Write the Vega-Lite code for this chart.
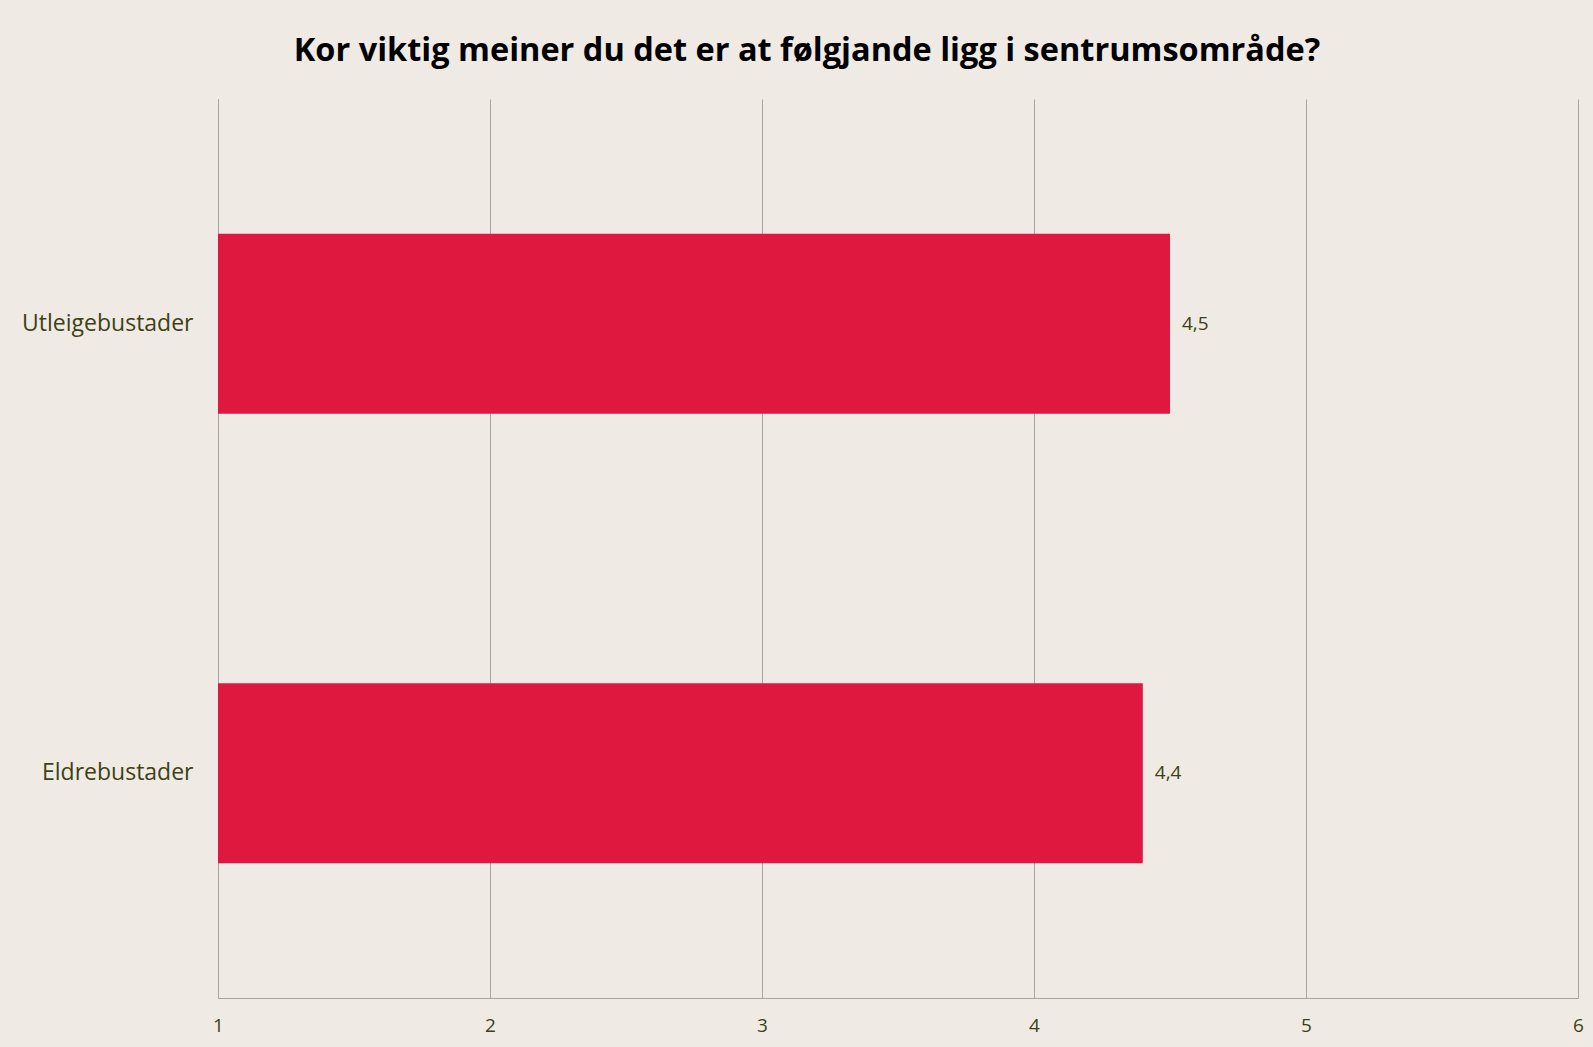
{
  "$schema": "https://vega.github.io/schema/vega-lite/v6.json",
  "width": 1360,
  "height": 899,
  "autosize": {"type": "none"},
  "padding": {"left": 218, "top": 99, "right": 15, "bottom": 49},
  "background": "#EFEBE4",
  "title": {
    "text": "Kor viktig meiner du det er at følgjande ligg i sentrumsområde?",
    "font": "Open Sans",
    "fontSize": 32.5,
    "fontWeight": "bold",
    "color": "#000000",
    "anchor": "middle",
    "dx": -91,
    "baseline": "alphabetic",
    "offset": 6
  },
  "data": {
    "values": [
      {"kategori": "Utleigebustader", "verdi": 4.5},
      {"kategori": "Eldrebustader", "verdi": 4.4}
    ]
  },
  "encoding": {
    "y": {
      "field": "kategori",
      "type": "nominal",
      "sort": null,
      "scale": {"paddingInner": 0.6, "paddingOuter": 0.3},
      "axis": {
        "title": null,
        "ticks": false,
        "domain": true,
        "domainColor": "#A5A5A5",
        "domainWidth": 1,
        "labelPadding": 25,
        "labelFont": "Open Sans",
        "labelFontSize": 23,
        "labelColor": "#404015",
        "grid": false
      }
    },
    "x": {
      "field": "verdi",
      "type": "quantitative",
      "scale": {"domain": [1, 6], "zero": false, "nice": false},
      "axis": {
        "title": null,
        "values": [1, 2, 3, 4, 5, 6],
        "format": "d",
        "ticks": false,
        "domain": true,
        "domainColor": "#A5A5A5",
        "domainWidth": 1,
        "grid": true,
        "gridColor": "#A5A5A5",
        "gridWidth": 1,
        "gridOpacity": 1,
        "labelPadding": 18,
        "labelFont": "Open Sans",
        "labelFontSize": 19,
        "labelColor": "#404015",
        "labelFlush": false
      }
    }
  },
  "layer": [
    {
      "mark": {"type": "bar", "color": "#DF1840"},
      "encoding": {"x2": {"datum": 1}}
    },
    {
      "mark": {"type": "text", "align": "left", "baseline": "middle", "dx": 12, "font": "Open Sans", "fontSize": 19, "color": "#404015"},
      "encoding": {"text": {"field": "verdi", "type": "quantitative", "format": ".1f"}}
    }
  ],
  "config": {
    "view": {"stroke": null},
    "locale": {"number": {"decimal": ",", "thousands": " ", "grouping": [3], "currency": ["", " kr"]}}
  }
}
